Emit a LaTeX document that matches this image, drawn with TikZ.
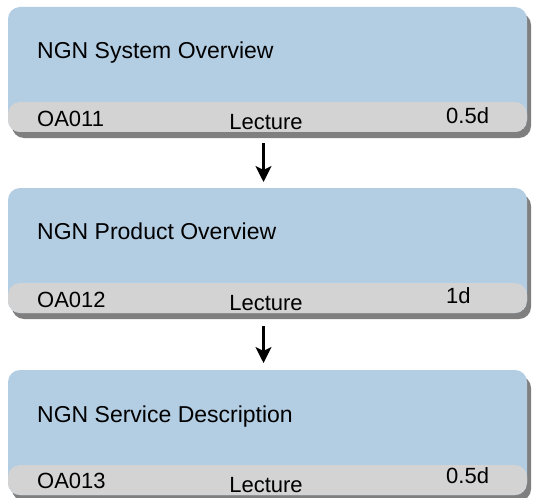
\documentclass[tikz,border=0pt]{standalone}
\usepackage{fontspec}
\setmainfont{Liberation Sans}
\usetikzlibrary{shadows,arrows.meta}
\definecolor{boxblue}{HTML}{B3CDE3}
\definecolor{bandgray}{HTML}{D3D3D3}
\definecolor{shadowgray}{HTML}{7F7F7F}
\tikzset{
  module/.style={rounded corners=12pt, minimum width=519pt, minimum height=125pt,
    inner sep=0pt, outer sep=0pt, anchor=north west, fill=boxblue,
    drop shadow={shadow xshift=4pt, shadow yshift=-6pt, fill=shadowgray, opacity=1},
    path picture={\fill[bandgray] ([yshift=30pt]path picture bounding box.south west)
      rectangle (path picture bounding box.south east);}},
  title/.style={anchor=base west, inner sep=0pt, font=\fontsize{23}{27}\selectfont},
  info/.style={inner sep=0pt, font=\fontsize{22}{26}\selectfont},
  flow/.style={line width=2.2pt, -{Stealth[length=16pt, width=16pt, inset=4pt]}}
}
\begin{document}
\begin{tikzpicture}[x=1pt, y=-1pt]
  \useasboundingbox (0,0) rectangle (534,497);
  % course modules
  \node[module] (m1) at (8,7) {};
  \node[module] (m2) at (8,188) {};
  \node[module] (m3) at (8,370) {};
  % module 1
  \node[title] (t1) at ([xshift=29pt, yshift=-52pt]m1.north west) {NGN System Overview};
  \node[info, anchor=base west] (c1) at ([xshift=29pt, yshift=-120pt]m1.north west) {OA011};
  \node[info, anchor=base] (k1) at ([xshift=258pt, yshift=-122pt]m1.north west) {Lecture};
  \node[info, anchor=base west] (d1) at ([xshift=438pt, yshift=-117pt]m1.north west) {0.5d};
  % module 2
  \node[title] (t2) at ([xshift=29pt, yshift=-51pt]m2.north west) {NGN Product Overview};
  \node[info, anchor=base west] (c2) at ([xshift=29pt, yshift=-119pt]m2.north west) {OA012};
  \node[info, anchor=base] (k2) at ([xshift=258pt, yshift=-122pt]m2.north west) {Lecture};
  \node[info, anchor=base west] (d2) at ([xshift=438pt, yshift=-115pt]m2.north west) {1d};
  % module 3
  \node[title] (t3) at ([xshift=29pt, yshift=-52pt]m3.north west) {NGN Service Description};
  \node[info, anchor=base west] (c3) at ([xshift=29pt, yshift=-118pt]m3.north west) {OA013};
  \node[info, anchor=base] (k3) at ([xshift=258pt, yshift=-122pt]m3.north west) {Lecture};
  \node[info, anchor=base west] (d3) at ([xshift=438pt, yshift=-113pt]m3.north west) {0.5d};
  % sequence arrows
  \draw[flow, shorten <=11pt, shorten >=6pt] ([xshift=-4pt]m1.south) -- ([xshift=-4pt]m2.north);
  \draw[flow, shorten <=13pt, shorten >=7pt] ([xshift=-4pt]m2.south) -- ([xshift=-4pt]m3.north);
\end{tikzpicture}
\end{document}
